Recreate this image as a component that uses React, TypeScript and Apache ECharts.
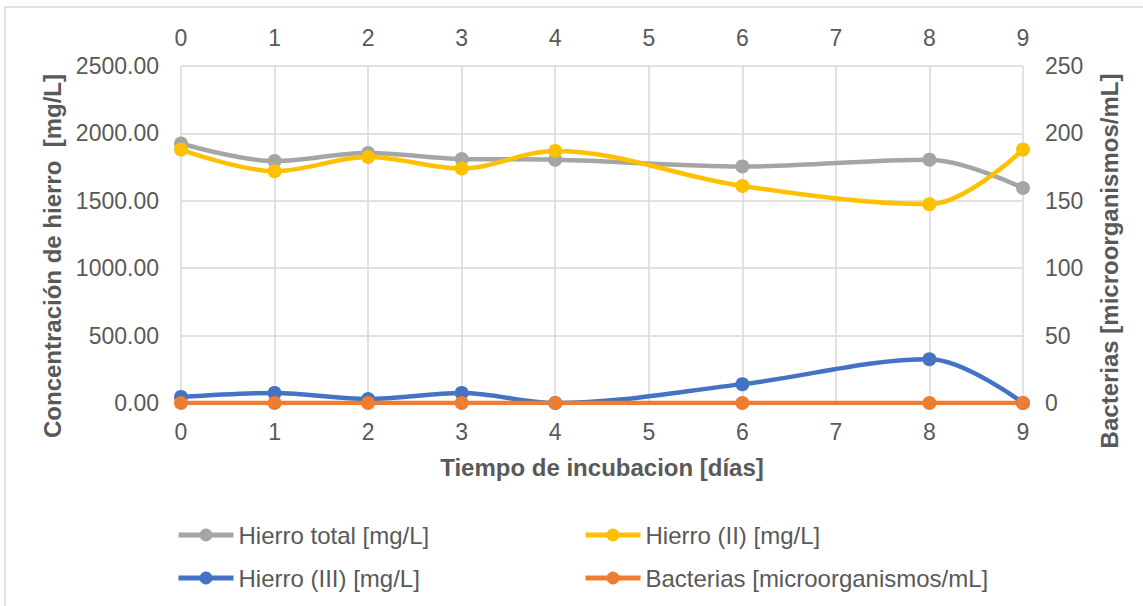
import React, { useEffect, useRef } from "react";
import * as echarts from "echarts";

const days = [0, 1, 2, 3, 4, 6, 8, 9];
const hierroTotal = [1925, 1795, 1855, 1810, 1805, 1755, 1805, 1595];
const hierroII = [1880, 1720, 1825, 1740, 1870, 1610, 1475, 1880];
const hierroIII = [45, 75, 30, 75, 0, 140, 325, 0];
const bacterias = [0, 0, 0, 0, 0, 0, 0, 0];

const seriesNames = [
  "Hierro total [mg/L]",
  "Hierro (II) [mg/L]",
  "Hierro (III) [mg/L]",
  "Bacterias [microorganismos/mL]",
];
const colors = ["#A5A5A5", "#FFC000", "#4472C4", "#ED7D31"];

const FONT = "Liberation Sans, Arial, sans-serif";
const TXT = "#595959";

export default function App() {
  const ref = useRef<HTMLDivElement>(null);
  useEffect(() => {
    if (!ref.current) return;
    const chart = echarts.init(ref.current, undefined, { renderer: "svg" });
    const pair = (vals: number[]) => days.map((d, i) => [d, vals[i]]);
    const mkSeries = (i: number, vals: number[], yIdx: number) => ({
      name: seriesNames[i],
      type: "line",
      data: pair(vals),
      yAxisIndex: yIdx,
      xAxisIndex: 0,
      smooth: 0.35,
      symbol: "circle",
      symbolSize: 14,
      lineStyle: { width: 4.5, color: colors[i] },
      itemStyle: { color: colors[i] },
    });
    const legendAt = (i: number, left: number, top: number) => ({
      data: [seriesNames[i]],
      left,
      top,
      padding: 0,
      itemWidth: 55,
      itemHeight: 16,
      itemGap: 0,
      lineStyle: { width: 5 },
      textStyle: { fontFamily: FONT, fontSize: 24, color: TXT },
    });
    const labelStyle = { fontFamily: FONT, fontSize: 23, color: TXT };
    const titleStyle = { fontFamily: FONT, fontSize: 24, fontWeight: "bold", color: TXT };
    chart.setOption({
      animation: false,
      backgroundColor: "#FFFFFF",
      graphic: [
        {
          type: "rect",
          shape: { x: 5, y: 7, width: 1300, height: 800 },
          style: { fill: "none", stroke: "#D9D9D9", lineWidth: 1.5 },
          silent: true,
        },
      ],
      grid: { left: 181, right: 120, top: 66, bottom: 203 },
      legend: [
        legendAt(0, 176, 523),
        legendAt(1, 583, 523),
        legendAt(2, 176, 566),
        legendAt(3, 583, 566),
      ],
      xAxis: [
        {
          type: "value",
          position: "bottom",
          min: 0,
          max: 9,
          interval: 1,
          name: "Tiempo de incubacion [días]",
          nameLocation: "middle",
          nameGap: 52,
          nameTextStyle: titleStyle,
          axisLine: { show: true, lineStyle: { color: "#D9D9D9", width: 1.5 } },
          axisTick: { show: false },
          axisLabel: { ...labelStyle, margin: 17 },
          splitLine: { show: true, lineStyle: { color: "#D9D9D9", width: 1.5 } },
        },
        {
          type: "value",
          position: "top",
          min: 0,
          max: 9,
          interval: 1,
          axisLine: { show: false },
          axisTick: { show: false },
          axisLabel: { ...labelStyle, margin: 17 },
          splitLine: { show: false },
        },
      ],
      yAxis: [
        {
          type: "value",
          min: 0,
          max: 2500,
          interval: 500,
          name: "Concentración de hierro  [mg/L]",
          nameLocation: "middle",
          nameGap: 115,
          nameTextStyle: { ...titleStyle, padding: [0, 43, 0, 0] },
          axisLine: { show: false },
          axisTick: { show: false },
          axisLabel: { ...labelStyle, margin: 22, formatter: (v: number) => v.toFixed(2) },
          splitLine: { show: true, lineStyle: { color: "#D9D9D9", width: 1.5 } },
        },
        {
          type: "value",
          min: 0,
          max: 250,
          interval: 50,
          position: "right",
          name: "Bacterias [microorganismos/mL]",
          nameLocation: "middle",
          nameGap: 74,
          nameTextStyle: { ...titleStyle, padding: [0, 53, 0, 0] },
          axisLine: { show: false },
          axisTick: { show: false },
          axisLabel: { ...labelStyle, margin: 22 },
          splitLine: { show: false },
        },
      ],
      series: [
        mkSeries(0, hierroTotal, 0),
        mkSeries(1, hierroII, 0),
        mkSeries(2, hierroIII, 0),
        mkSeries(3, bacterias, 1),
      ],
    });
    return () => chart.dispose();
  }, []);
  return (
    <div
      ref={ref}
      style={{ position: "absolute", left: 0, top: 0, width: 1143, height: 606 }}
    />
  );
}
